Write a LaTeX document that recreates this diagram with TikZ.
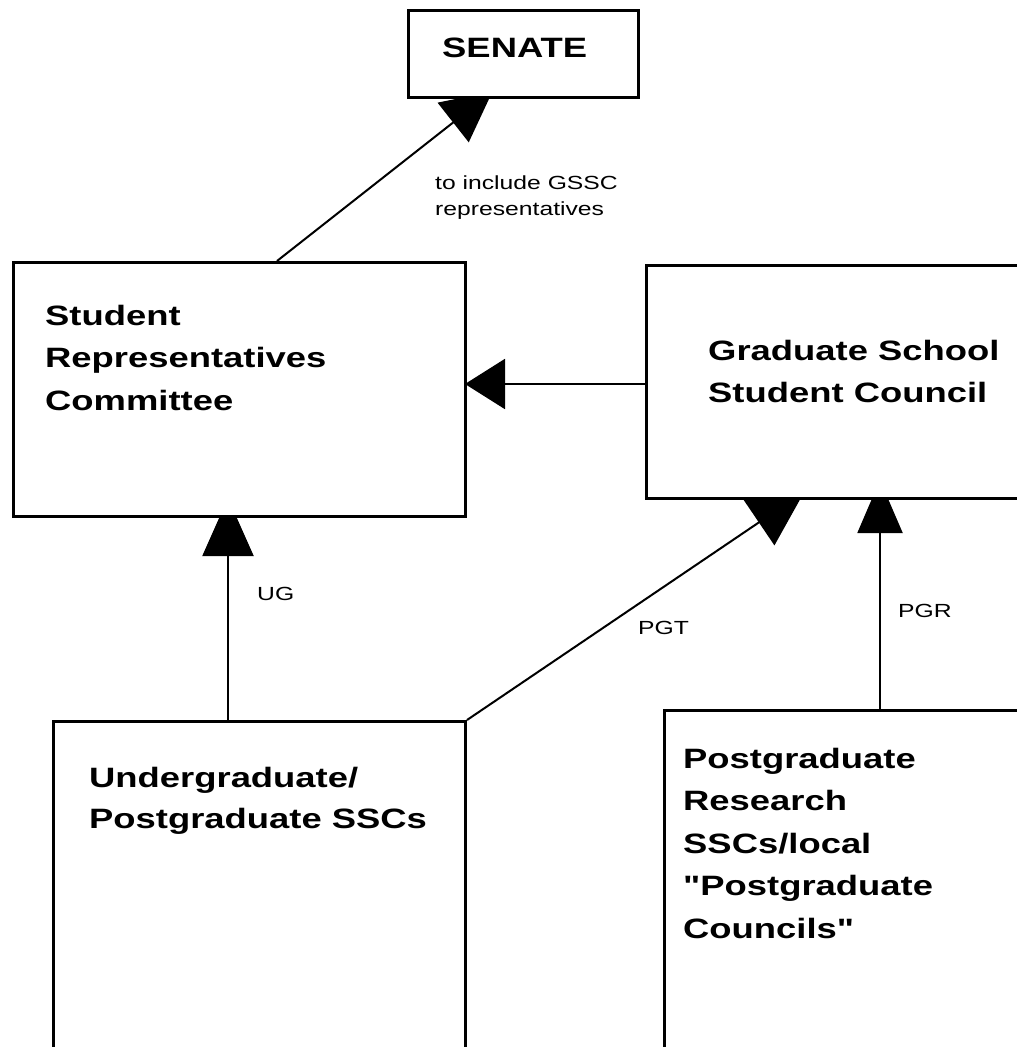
\documentclass[tikz,border=0pt]{standalone}
\usepackage{fontspec}
\usetikzlibrary{arrows.meta,calc,backgrounds}
\newfontfamily\boxfont{Liberation Sans}[FakeStretch=1.3]
\newcommand{\bigtext}{\boxfont\bfseries\fontsize{28}{42.5}\selectfont}
\newcommand{\smalltext}{\boxfont\fontsize{19}{26}\selectfont}
\begin{document}
\begin{tikzpicture}[x=1pt,y=-1pt,
  box/.style={draw=black, line width=3pt, fill=white, inner sep=0pt, anchor=north west},
  bigl/.style={font=\bigtext, inner sep=0pt, anchor=base west},
  smalll/.style={font=\smalltext, inner sep=0pt, anchor=base west},
  link/.style={line width=2pt, draw=black}]
\useasboundingbox (0,0) rectangle (1017,1047);
\clip (0,0) rectangle (1017,1047);

% boxes
\node[box, minimum width=230pt, minimum height=87pt]  (senate) at (407,9)   {};
\node[box, minimum width=452pt, minimum height=254pt] (src)    at (12,261)  {};
\node[box, minimum width=400pt, minimum height=233pt] (gssc)   at (645,264) {};
\node[box, minimum width=412pt, minimum height=400pt] (ugpg)   at (52,720)  {};
\node[box, minimum width=400pt, minimum height=400pt] (pgr)    at (663,709) {};

% box texts
\node[bigl] (tsenate) at (442,57) {SENATE};
\node[bigl] (tsrc) at (45,325) {\begin{tabular}[t]{@{}l@{}}Student\\Representatives\\Committee\end{tabular}};
\node[bigl] (tgssc) at (708,360) {\begin{tabular}[t]{@{}l@{}}Graduate School\\Student Council\end{tabular}};
\node[bigl] (tugpg) at (89,787) {\fontsize{28}{41}\selectfont\begin{tabular}[t]{@{}l@{}}Undergraduate/\\Postgraduate SSCs\end{tabular}};
\node[bigl] (tpgr) at (683,768) {\begin{tabular}[t]{@{}l@{}}Postgraduate\\Research\\SSCs/local\\"Postgraduate\\Councils"\end{tabular}};

% connector labels
\node[smalll] (lgssc) at (435,189) {\begin{tabular}[t]{@{}l@{}}to include GSSC\\representatives\end{tabular}};
\node[smalll] (lug) at (257,600) {UG};
\node[smalll] (lpgt) at (638,634) {PGT};
\node[smalll] (lpgr) at (898,617) {PGR};

% connectors (behind the boxes)
\begin{scope}[on background layer]
\fill[white] (0,0) rectangle (1017,1047);
\draw[link, -{Triangle[length=50pt,width=50pt]}, shorten >=-12pt]
  ($(src.north west)+(265,0)$) -- ($(senate.south west)+(76,0)$);
\draw[link, -{Triangle[length=40pt,width=50pt]}, shorten >=-2pt]
  ($(gssc.north west)+(0,120)$) coordinate (gw) -- (src.east |- gw);
\draw[link, -{Triangle[length=58pt,width=51pt]}, shorten >=-20pt]
  ($(ugpg.north west)+(176,0)$) coordinate (ugs) -- (src.south -| ugs);
\draw[link, -{Triangle[length=55pt,width=55pt]}, shorten >=-15pt]
  (ugpg.north east) -- ($(gssc.south west)+(147,0)$);
\draw[link, -{Triangle[length=53pt,width=45pt]}, shorten >=-20pt]
  ($(pgr.north west)+(217,0)$) coordinate (pgs) -- (gssc.south -| pgs);
\end{scope}
\end{tikzpicture}
\end{document}
